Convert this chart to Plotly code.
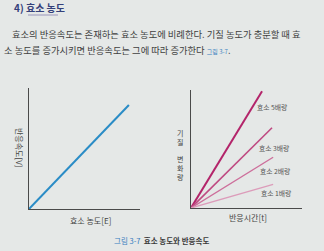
import plotly.graph_objects as go

# ---- data ----
enzyme_conc = [0, 0.90]
reaction_rate = [0, 0.86]

series_names = ["효소 5배량", "효소 3배량", "효소 2배량", "효소 1배량"]
series_time = [[0, 0.64], [0, 0.73], [0, 0.74], [0, 0.74]]
series_change = [[0, 0.99], [0, 0.68], [0, 0.43], [0, 0.20]]
series_colors = ["#b3246a", "#bf4a82", "#cd6f9b", "#dc9cba"]
series_widths = [2.0, 1.6, 1.4, 1.3]

title_text = "4) 효소 농도"
para1 = "효소의 반응속도는 존재하는 효소 농도에 비례한다. 기질 농도가 충분할 때 효"
para2 = "소 농도를 증가시키면 반응속도는 그에 따라 증가한다 "
fig_ref = "그림 3-7"
caption = "효소 농도와 반응속도"

W, H = 324, 251
FONT = "Noto Sans CJK KR"
BG = "#e5e8e7"

def px(x):
    return x / W

def py(y):
    return 1 - y / H

fig = go.Figure()

fig.add_trace(go.Scatter(x=enzyme_conc, y=reaction_rate, mode="lines",
                         line=dict(color="#2a8cc6", width=2),
                         xaxis="x", yaxis="y", showlegend=False, hoverinfo="skip"))

for name, t, s, c, w in zip(series_names, series_time, series_change, series_colors, series_widths):
    fig.add_trace(go.Scatter(x=t, y=s, mode="lines", name=name,
                             line=dict(color=c, width=w),
                             xaxis="x2", yaxis="y2", showlegend=False, hoverinfo="skip"))

axis_common = dict(range=[0, 1], showgrid=False, zeroline=False, showticklabels=False,
                   ticks="", showline=True, linecolor="#4a4a4a", linewidth=1.3, fixedrange=True)

fig.update_layout(
    width=W, height=H,
    margin=dict(l=0, r=0, t=0, b=0),
    paper_bgcolor=BG, plot_bgcolor=BG,
    font=dict(family=FONT, color="#444"),
    xaxis=dict(domain=[px(29), px(140)], anchor="y", **axis_common),
    yaxis=dict(domain=[py(209), py(88)], anchor="x", **axis_common),
    xaxis2=dict(domain=[px(191), px(302)], anchor="y2", **axis_common),
    yaxis2=dict(domain=[py(208), py(90)], anchor="x2", **axis_common),
)

ann = []
# heading
ann.append(dict(text="<b>" + title_text + "</b>", x=px(12), y=py(8), xref="paper", yref="paper",
                xanchor="left", yanchor="middle", showarrow=False,
                font=dict(size=10, color="#34407a", family=FONT)))
# paragraph
ann.append(dict(text=para1, x=px(10), y=py(34), xref="paper", yref="paper",
                xanchor="left", yanchor="middle", showarrow=False,
                font=dict(size=9.3, color="#404040", family=FONT)))
ann.append(dict(text=para2 + "<span style='color:#3a7fc0;font-size:6px'>" + fig_ref + "</span>.",
                x=px(2), y=py(50), xref="paper", yref="paper",
                xanchor="left", yanchor="middle", showarrow=False,
                font=dict(size=9.3, color="#404040", family=FONT)))
# axis labels left
ann.append(dict(text="반응속도[V]", x=px(20), y=py(147), xref="paper", yref="paper",
                textangle=90, xanchor="center", yanchor="middle", showarrow=False,
                font=dict(size=8, color="#444", family=FONT)))
ann.append(dict(text="효소 농도[E]", x=px(90), y=py(220), xref="paper", yref="paper",
                xanchor="center", yanchor="middle", showarrow=False,
                font=dict(size=8, color="#444", family=FONT)))
# axis labels right
ann.append(dict(text="기<br>질", x=px(180), y=py(137.5), xref="paper", yref="paper",
                xanchor="center", yanchor="middle", showarrow=False,
                font=dict(size=7, color="#444", family=FONT)))
ann.append(dict(text="변<br>화<br>량", x=px(180), y=py(167.5), xref="paper", yref="paper",
                xanchor="center", yanchor="middle", showarrow=False,
                font=dict(size=7, color="#444", family=FONT)))
ann.append(dict(text="반응시간[t]", x=px(248), y=py(217), xref="paper", yref="paper",
                xanchor="center", yanchor="middle", showarrow=False,
                font=dict(size=8, color="#444", family=FONT)))
# series labels
label_pos = [(0.73, 0.86), (0.75, 0.51), (0.76, 0.31), (0.77, 0.13)]
for name, (lx, ly) in zip(series_names, label_pos):
    ann.append(dict(text=name, x=lx, y=ly, xref="x2", yref="y2",
                    xanchor="center", yanchor="middle", showarrow=False,
                    font=dict(size=6.8, color="#555", family=FONT)))
# caption
ann.append(dict(text="<span style='color:#3a7fc0'>" + fig_ref + "</span>  <b>" + caption + "</b>",
                x=px(112), y=py(240), xref="paper", yref="paper",
                xanchor="left", yanchor="middle", showarrow=False,
                font=dict(size=7.5, color="#3a3a3a", family=FONT)))

fig.update_layout(annotations=ann)
fig.add_shape(type="line", xref="paper", yref="paper",
              x0=px(28), x1=px(58), y0=py(15), y1=py(15),
              line=dict(color="#9a96bb", width=1))

fig.write_html("out.html")
